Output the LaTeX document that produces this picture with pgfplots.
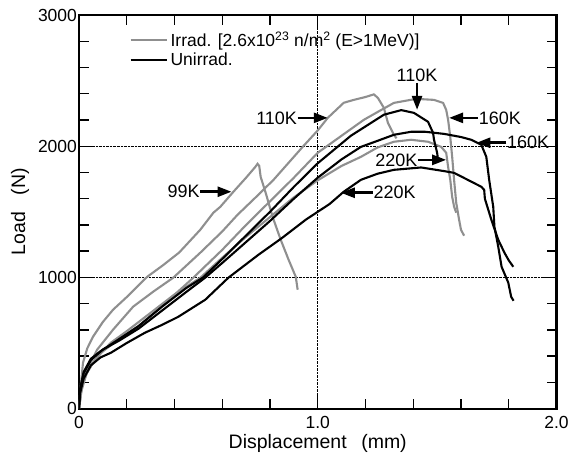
\documentclass[border=0pt]{standalone}
\usepackage{fontspec}
\setmainfont{Liberation Sans}
\usepackage{pgfplots}
\pgfplotsset{compat=1.18}
\usetikzlibrary{arrows.meta}
\definecolor{irr}{gray}{0.56}
\tikzset{ann/.style={line width=2.6pt,-{Triangle[length=14pt,width=10pt]}},
  lab/.style={font=\fontsize{18}{21}\selectfont, inner sep=0.5pt}}
\begin{document}
\begin{tikzpicture}
\begin{axis}[
  scale only axis, width=478pt, height=394pt,
  xmin=0, xmax=2, ymin=0, ymax=3000,
  xtick={0,1,2}, xticklabels={0,1.0,2.0},
  ytick={0,1000,2000,3000}, yticklabels={0,1000,2000,3000},
  minor x tick num=4, minor y tick num=4,
  tick align=inside, major tick length=15pt, minor tick length=10pt,
  tick style={black, line width=1.4pt},
  axis line style={line width=2.2pt},
  grid=major, grid style={densely dotted, black, line width=0.8pt},
  ticklabel style={font=\fontsize{17.5}{20}\selectfont},
  xticklabel style={yshift=-4pt},
  yticklabel style={xshift=1.5pt},
  xlabel={Displacement\hspace{0.75em}(mm)},
  ylabel={Load\hspace{0.85em}(N)},
  label style={font=\fontsize{19.5}{23}\selectfont},
  xlabel style={at={(axis description cs:0.5,-0.0888)}, anchor=center},
  ylabel style={at={(axis description cs:-0.1234,0.5)}, anchor=center},
  legend style={at={(axis description cs:0.099,0.968)}, anchor=north west,
    draw=none, fill=none, font=\fontsize{17.5}{20}\selectfont, row sep=1pt},
  legend cell align=left,
  legend image code/.code={\draw[#1] (0pt,0pt) -- (37pt,0pt);},
]
\addlegendimage{irr, line width=2.2pt}
\addlegendentry{Irrad. [2.6x10\textsuperscript{23} n/m\textsuperscript{2} (E>1MeV)]}
\addlegendimage{black, line width=2.2pt}
\addlegendentry{Unirrad.}

% 99K irradiated
\addplot[irr, line width=2.1pt, forget plot] coordinates {
(0,0)(0.008,180)(0.017,350)(0.035,460)(0.059,548)(0.1,660)(0.143,754)(0.2,850)(0.286,1005)(0.35,1090)(0.42,1190)(0.508,1363)(0.563,1493)(0.592,1538)(0.647,1653)(0.70,1760)(0.739,1843)(0.748,1866)(0.755,1850)(0.761,1767)(0.782,1645)(0.811,1462)(0.845,1287)(0.878,1135)(0.908,1005)(0.916,906)};
% 110K irradiated
\addplot[irr, line width=2.1pt, forget plot] coordinates {
(0,0)(0.004,46)(0.015,200)(0.034,297)(0.076,449)(0.143,602)(0.227,777)(0.31,890)(0.395,998)(0.508,1188)(0.60,1350)(0.664,1477)(0.74,1610)(0.815,1744)(0.937,1995)(1.0,2120)(1.042,2216)(1.109,2331)(1.151,2353)(1.20,2375)(1.235,2395)(1.252,2368)(1.277,2292)(1.294,2178)(1.319,2087)(1.33,2060)};
% 160K irradiated
\addplot[irr, line width=2.1pt, forget plot] coordinates {
(0,0)(0.01,150)(0.038,297)(0.092,426)(0.164,525)(0.248,625)(0.345,777)(0.479,998)(0.6,1210)(0.7,1400)(0.8,1580)(0.9,1760)(1.0,1950)(1.1,2080)(1.193,2201)(1.252,2262)(1.319,2330)(1.412,2361)(1.487,2353)(1.525,2330)(1.538,2277)(1.546,2201)(1.555,2072)(1.563,1919)(1.571,1744)(1.58,1569)(1.592,1440)(1.60,1363)(1.613,1318)};
% 220K irradiated
\addplot[irr, line width=2.1pt, forget plot] coordinates {
(0,0)(0.01,130)(0.03,260)(0.067,373)(0.134,503)(0.2,590)(0.3,730)(0.4,870)(0.51,1000)(0.6,1150)(0.7,1310)(0.8,1460)(0.9,1610)(1.0,1740)(1.1,1850)(1.181,1919)(1.25,1990)(1.319,2034)(1.391,2049)(1.462,2034)(1.517,1995)(1.538,1950)(1.546,1843)(1.555,1744)(1.563,1615)(1.571,1540)(1.58,1493)};
% 110K unirradiated
\addplot[black, line width=2.1pt, forget plot] coordinates {
(0,0)(0.005,150)(0.02,280)(0.05,380)(0.092,440)(0.164,525)(0.25,630)(0.35,780)(0.45,920)(0.52,1000)(0.6,1140)(0.7,1320)(0.8,1500)(0.9,1690)(1.0,1870)(1.139,2080)(1.277,2240)(1.35,2275)(1.403,2254)(1.462,2186)(1.483,2102)(1.487,2049)(1.50,1950)(1.505,1880)};
% 160K unirradiated
\addplot[black, line width=2.1pt, forget plot] coordinates {
(0,0)(0.005,140)(0.02,270)(0.05,370)(0.1,450)(0.17,520)(0.25,610)(0.35,750)(0.45,890)(0.53,1000)(0.6,1110)(0.7,1270)(0.8,1430)(0.9,1600)(1.0,1760)(1.1,1900)(1.181,1995)(1.252,2042)(1.319,2087)(1.391,2110)(1.45,2110)(1.529,2094)(1.60,2070)(1.643,2049)(1.685,2011)(1.706,1919)(1.718,1744)(1.735,1538)(1.74,1386)(1.756,1234)(1.77,1081)(1.798,960)(1.81,853)(1.82,822)};
% 220K unirradiated
\addplot[black, line width=2.1pt, forget plot] coordinates {
(0,0)(0.005,120)(0.02,230)(0.05,330)(0.09,390)(0.134,426)(0.2,500)(0.277,579)(0.35,640)(0.416,700)(0.529,830)(0.626,998)(0.752,1173)(0.85,1300)(0.95,1440)(1.05,1560)(1.109,1653)(1.181,1744)(1.25,1790)(1.319,1820)(1.433,1838)(1.53,1810)(1.571,1797)(1.60,1770)(1.685,1691)(1.697,1668)(1.70,1600)(1.727,1440)(1.756,1287)(1.782,1188)(1.80,1130)(1.819,1081)};

% annotations
\node[lab, anchor=east] at (axis cs:0.508,1653) {99K};
\draw[ann] (axis cs:0.508,1653) -- (axis cs:0.639,1653);
\node[lab, anchor=east] at (axis cs:0.916,2216) {110K};
\draw[ann] (axis cs:0.916,2216) -- (axis cs:1.042,2216);
\node[lab, anchor=south] at (axis cs:1.416,2483) {110K};
\draw[ann] (axis cs:1.416,2483) -- (axis cs:1.416,2277);
\node[lab, anchor=west] at (axis cs:1.672,2216) {160K};
\draw[ann] (axis cs:1.672,2216) -- (axis cs:1.55,2216);
\node[lab, anchor=west] at (axis cs:1.790,2026) {160K};
\draw[ann] (axis cs:1.790,2026) -- (axis cs:1.664,2026);
\node[lab, anchor=east] at (axis cs:1.420,1896) {220K};
\draw[ann] (axis cs:1.420,1896) -- (axis cs:1.538,1896);
\node[lab, anchor=west] at (axis cs:1.231,1645) {220K};
\draw[ann] (axis cs:1.231,1645) -- (axis cs:1.097,1645);
\end{axis}
\path ([shift={(-79pt,-49pt)}]current axis.south west) rectangle ([shift={(15pt,15pt)}]current axis.north east);
\end{tikzpicture}
\end{document}
